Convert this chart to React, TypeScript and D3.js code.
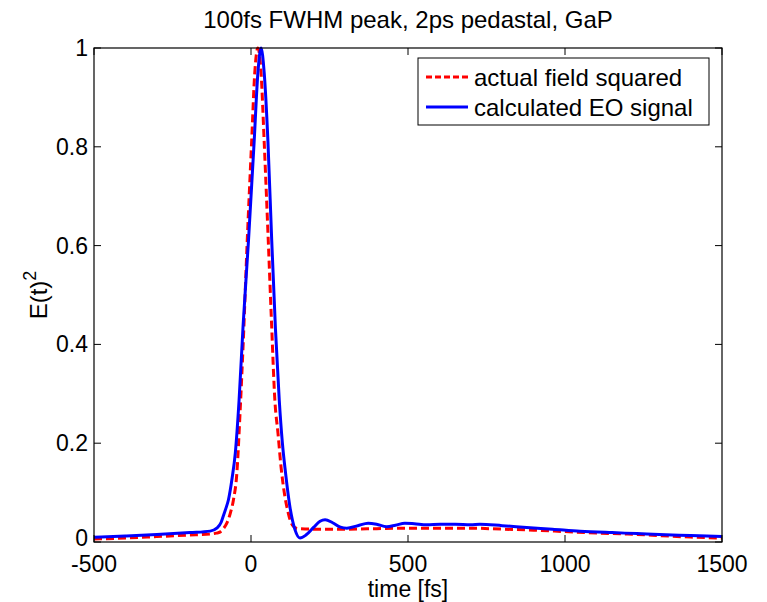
import React from 'react';
import * as d3 from 'd3';

// actual field squared (red dashed)
const redT = [-500, -400, -300, -200, -130, -110, -99, -88, -77, -66, -56, -45, -35, -25, -12, 2, 12, 22, 32, 42, 55, 65, 76, 86, 96, 106, 116, 126, 136, 150, 200, 300, 400, 500, 600, 700, 800, 900, 1000, 1100, 1200, 1300, 1400, 1500];
const redV = [0.006, 0.008, 0.011, 0.014, 0.016, 0.018, 0.020, 0.027, 0.038, 0.058, 0.085, 0.14, 0.26, 0.40, 0.61, 0.81, 0.95, 1.0, 0.95, 0.81, 0.61, 0.45, 0.287, 0.22, 0.15, 0.10, 0.066, 0.042, 0.031, 0.027, 0.026, 0.026, 0.027, 0.028, 0.028, 0.028, 0.026, 0.024, 0.021, 0.018, 0.016, 0.013, 0.010, 0.008];

// calculated EO signal (blue solid)
const blueT = [-500, -400, -300, -194, -130, -109, -95, -89, -80, -72, -60, -50, -38, -25, -8, 10, 22, 32, 42, 54, 66, 78, 90, 100, 110, 124, 140, 156, 175, 200, 220, 236, 260, 285, 305, 340, 373, 400, 432, 460, 490, 520, 560, 603, 650, 700, 729, 800, 889, 960, 1048, 1150, 1229, 1300, 1400, 1500];
const blueV = [0.0095, 0.012, 0.015, 0.019, 0.022, 0.028, 0.040, 0.051, 0.068, 0.085, 0.13, 0.18, 0.287, 0.44, 0.61, 0.81, 0.95, 1.0, 0.95, 0.81, 0.61, 0.43, 0.287, 0.20, 0.14, 0.071, 0.025, 0.008, 0.014, 0.030, 0.042, 0.045, 0.039, 0.030, 0.028, 0.033, 0.038, 0.036, 0.031, 0.034, 0.038, 0.037, 0.035, 0.036, 0.036, 0.035, 0.036, 0.033, 0.029, 0.026, 0.022, 0.019, 0.017, 0.015, 0.013, 0.011];

const xTickVals = [-500, 0, 500, 1000, 1500];
const yTickVals = [0, 0.2, 0.4, 0.6, 0.8, 1];

const title = '100fs FWHM peak, 2ps pedastal, GaP';
const xLabel = 'time [fs]';
const legendNames = ['actual field squared', 'calculated EO signal'];

export default function App() {
    const width = 767;
    const height = 602;
    const margin = {t: 48, b: 60, r: 45, l: 94};
    const font = '"Liberation Sans", Arial, sans-serif';
    const tick = 7;

    const x = d3.scaleLinear().domain([-500, 1500]).range([margin.l, width - margin.r]);
    const y = d3.scaleLinear().domain([0, 1]).range([height - margin.b, margin.t]);

    const line = d3.line<[number, number]>()
        .x(d => x(d[0]))
        .y(d => y(d[1]))
        .curve(d3.curveMonotoneX);

    const red: [number, number][] = redT.map((t, i) => [t, redV[i]]);
    const blue: [number, number][] = blueT.map((t, i) => [t, blueV[i]]);

    const x0 = margin.l, x1 = width - margin.r, y0 = height - margin.b, y1 = margin.t;

    const xTicks = xTickVals.map(d => (
        <g key={'x' + d}>
            <line x1={x(d)} x2={x(d)} y1={y0} y2={y0 - tick} stroke="#000"/>
            <line x1={x(d)} x2={x(d)} y1={y1} y2={y1 + tick} stroke="#000"/>
            <text x={x(d)} y={y0 + 30} textAnchor="middle" fontSize={23}>{d}</text>
        </g>
    ));

    const yTicks = yTickVals.map(d => (
        <g key={'y' + d}>
            <line x1={x0} x2={x0 + tick} y1={y(d)} y2={y(d)} stroke="#000"/>
            <line x1={x1} x2={x1 - tick} y1={y(d)} y2={y(d)} stroke="#000"/>
            <text x={x0 - 6} y={y(d) + (d === 0 ? 4 : 8)} textAnchor="end" fontSize={23}>{d3.format('~g')(d)}</text>
        </g>
    ));

    const lg = {x: 418, y: 58, w: 291, h: 67};

    return (
        <svg width={width} height={height} style={{position: 'absolute', left: 0, top: 0, background: '#fff'}}
             fontFamily={font} fontSize={24} fill="#000">
            <rect x={0} y={0} width={width} height={height} fill="#fff"/>
            <defs>
                <clipPath id="plot">
                    <rect x={x0} y={y1 - 3} width={x1 - x0} height={y0 - y1 + 3}/>
                </clipPath>
            </defs>
            <g clipPath="url(#plot)">
                <path d={line(red) || ''} fill="none" stroke="#ff0000" strokeWidth={3} strokeDasharray="8,4"/>
                <path d={line(blue) || ''} fill="none" stroke="#0000ff" strokeWidth={3}/>
            </g>
            <rect x={x0} y={y1} width={x1 - x0} height={y0 - y1} fill="none" stroke="#000" strokeWidth={1.2}/>
            <g>{xTicks}</g>
            <g>{yTicks}</g>
            <text x={(x0 + x1) / 2} y={28} textAnchor="middle">{title}</text>
            <text x={(x0 + x1) / 2} y={597} textAnchor="middle" fontSize={23}>{xLabel}</text>
            <text transform={`translate(47,${(y0 + y1) / 2}) rotate(-90)`} textAnchor="middle">
                E(t)<tspan fontSize={18} dy={-11}>2</tspan>
            </text>
            <g>
                <rect x={lg.x} y={lg.y} width={lg.w} height={lg.h} fill="#fff" stroke="#000" strokeWidth={1}/>
                <line x1={lg.x + 8} x2={lg.x + 50} y1={lg.y + 19} y2={lg.y + 19} stroke="#ff0000" strokeWidth={3} strokeDasharray="6,3"/>
                <line x1={lg.x + 8} x2={lg.x + 50} y1={lg.y + 49} y2={lg.y + 49} stroke="#0000ff" strokeWidth={3}/>
                <text x={lg.x + 56} y={lg.y + 28}>{legendNames[0]}</text>
                <text x={lg.x + 56} y={lg.y + 58}>{legendNames[1]}</text>
            </g>
        </svg>
    );
}
